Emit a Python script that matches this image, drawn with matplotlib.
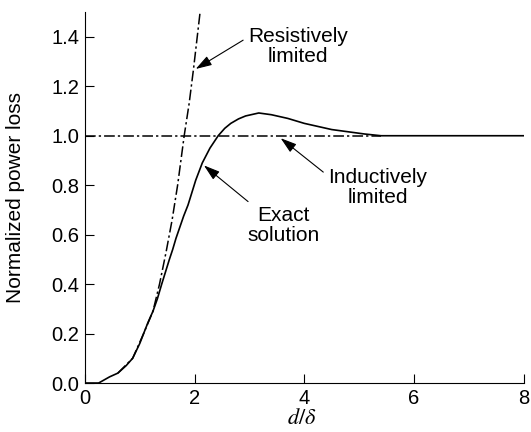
import matplotlib
matplotlib.use("Agg")
import matplotlib.pyplot as plt

plt.rcParams['font.family'] = ['Liberation Sans', 'DejaVu Sans']
plt.rcParams['mathtext.fontset'] = 'stix'

# exact solution
exact_x = [0.0, 0.25, 0.45, 0.6, 0.75, 0.87, 1.0, 1.07, 1.15, 1.24, 1.32, 1.40, 1.47, 1.54,
           1.60, 1.66, 1.73, 1.80, 1.88, 1.95, 2.02, 2.14, 2.28, 2.43, 2.55, 2.66, 2.8,
           2.93, 3.05, 3.17, 3.4, 3.7, 4.0, 4.2, 4.5, 4.8, 5.1, 5.4, 6.0, 7.0, 8.0]
exact_y = [0.0, 0.0, 0.025, 0.04, 0.07, 0.10, 0.16, 0.20, 0.245, 0.29, 0.34, 0.40, 0.45, 0.50,
           0.54, 0.585, 0.63, 0.675, 0.72, 0.77, 0.82, 0.89, 0.95, 1.00, 1.03, 1.05, 1.068,
           1.08, 1.086, 1.092, 1.085, 1.07, 1.05, 1.04, 1.025, 1.016, 1.007, 1.0, 1.0, 1.0, 1.0]

# resistively limited asymptote
res_x = [0.6, 0.87, 1.07, 1.24, 1.36, 1.48, 1.59, 1.69, 1.75, 1.81, 1.90, 1.98, 2.1]
res_y = [0.04, 0.10, 0.20, 0.29, 0.40, 0.53, 0.66, 0.80, 0.90, 1.0, 1.13, 1.27, 1.5]

# inductively limited asymptote
ind_x = [0.0, 5.4]
ind_y = [1.0, 1.0]

fig = plt.figure(figsize=(5.31, 4.32), dpi=100)
ax = fig.add_axes([0.16, 0.1134, 0.826, 0.8586])

dashdot = (0, (7, 2, 1.5, 2))
ax.plot(exact_x, exact_y, color='black', linewidth=1.2)
ax.plot(res_x, res_y, color='black', linewidth=1.1, linestyle=dashdot)
ax.plot(ind_x, ind_y, color='black', linewidth=1.1, linestyle=dashdot)

def arrow(relpos):
    return dict(arrowstyle='-|>,head_length=0.7,head_width=0.22', color='black',
                linewidth=0.8, mutation_scale=14, shrinkA=2, shrinkB=0, relpos=relpos)

ax.annotate('Resistively\nlimited', xy=(2.02, 1.27), xytext=(3.89, 1.36),
            ha='center', va='center', fontsize=15, linespacing=1.05, arrowprops=arrow((0, 0.75)))
ax.annotate('Inductively\nlimited', xy=(3.57, 0.99), xytext=(5.34, 0.79),
            ha='center', va='center', fontsize=15, linespacing=1.05, arrowprops=arrow((0, 0.8)))
ax.annotate('Exact\nsolution', xy=(2.17, 0.88), xytext=(3.62, 0.637),
            ha='center', va='center', fontsize=15, linespacing=1.05, arrowprops=arrow((0.12, 0.95)))

ax.set_xlim(0, 8)
ax.set_ylim(0, 1.5)
ax.set_xticks([0, 2, 4, 6, 8])
ax.set_yticks([0, 0.2, 0.4, 0.6, 0.8, 1.0, 1.2, 1.4])
ax.set_yticklabels(['0.0', '0.2', '0.4', '0.6', '0.8', '1.0', '1.2', '1.4'])
ax.tick_params(direction='in', length=6.5, width=0.8, labelsize=14.5, pad=4)
ax.spines['top'].set_visible(False)
ax.spines['right'].set_visible(False)
ax.set_ylabel('Normalized power loss', fontsize=15)
ax.yaxis.set_label_coords(-0.136, 0.5)
ax.set_xlabel(r'$d/\delta$', fontsize=16)
ax.xaxis.set_label_coords(0.495, -0.068)

fig.savefig('out.png', dpi=100)
